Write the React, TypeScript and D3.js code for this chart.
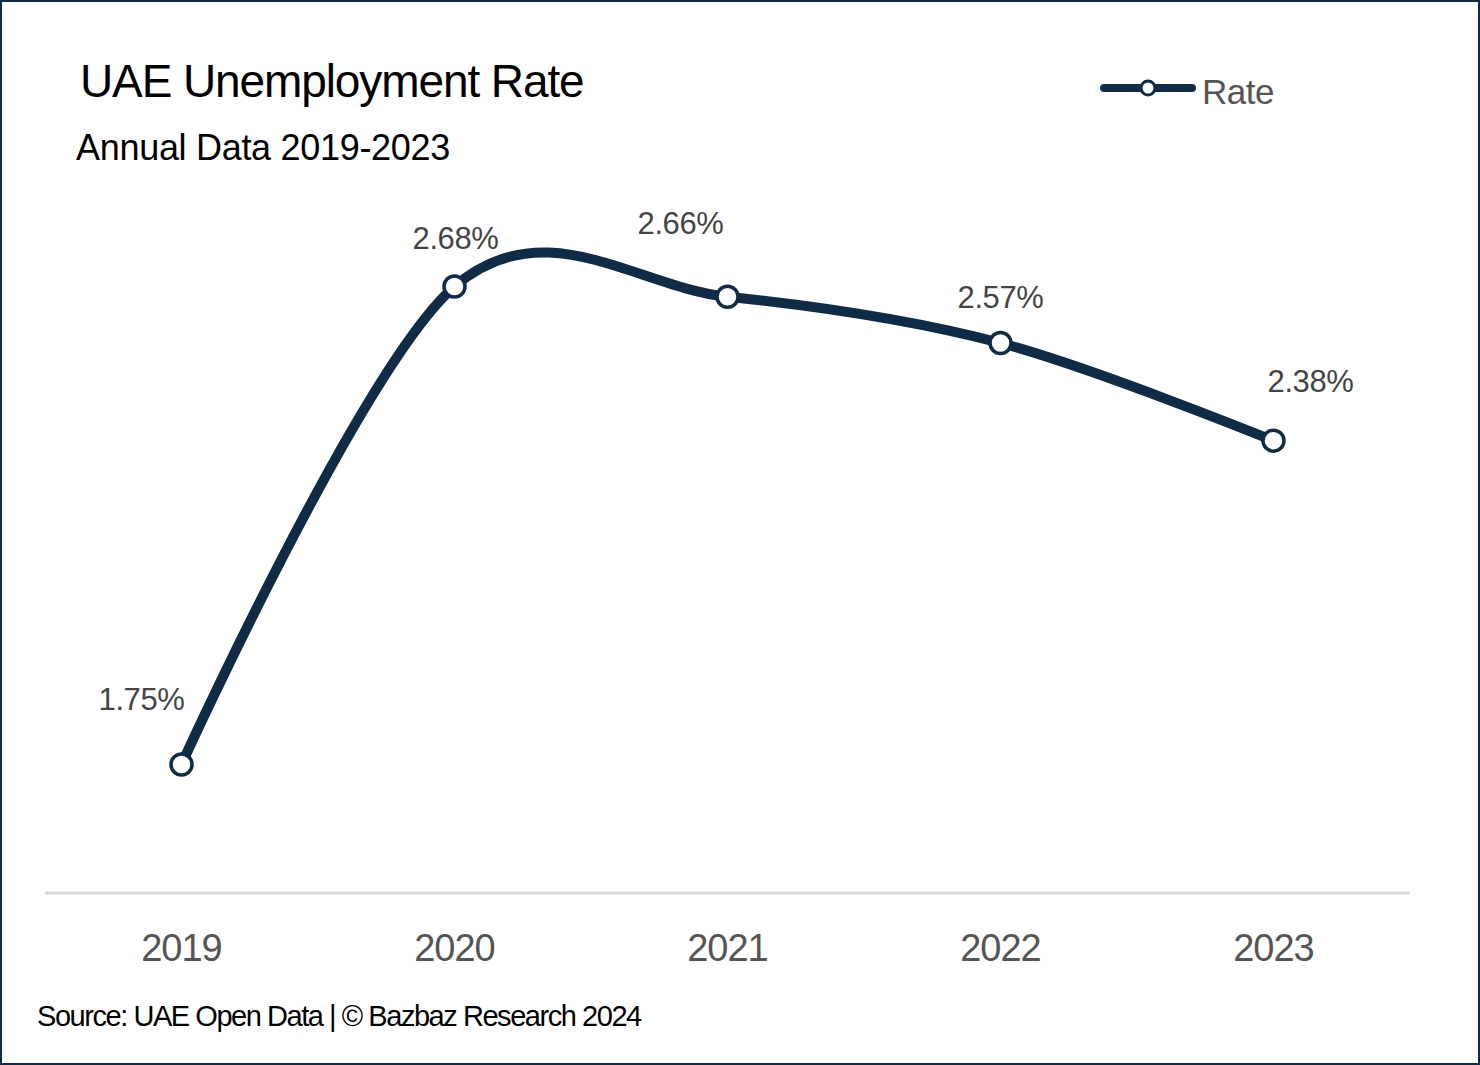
import { useEffect, useMemo } from 'react';
import * as d3 from 'd3';

const years = ['2019', '2020', '2021', '2022', '2023'];
const rates = [1.75, 2.68, 2.66, 2.57, 2.38];
// hand-placed label nudges (dx, dy) relative to each point
const labelOffsets: [number, number][] = [
  [-40, -66],
  [1, -48],
  [-47, -74],
  [0, -46],
  [37, -60],
];

const WIDTH = 1480;
const HEIGHT = 1065;
const NAVY = '#0f2b46';
const FONT = "'Liberation Sans', Arial, sans-serif";

export default function App() {
  useEffect(() => {
    document.body.style.margin = '0';
  }, []);

  const x = useMemo(() => d3.scaleBand<string>().domain(years).range([45, 1410]).padding(0), []);
  const y = useMemo(() => d3.scaleLinear().domain([1.5, 3.0]).range([893, 122]), []);

  const cx = (i: number) => (x(years[i]) ?? 0) + x.bandwidth() / 2;

  const line = d3
    .line<number>()
    .x((_, i) => cx(i))
    .y((d) => y(d))
    .curve(d3.curveCardinal.tension(0));

  return (
    <svg width={WIDTH} height={HEIGHT} style={{ display: 'block' }} fontFamily={FONT}>
      <rect x={1} y={1} width={WIDTH - 2} height={HEIGHT - 2} fill="#fff" stroke={NAVY} strokeWidth={2} />

      <text x={80} y={97} fontSize={46} fill="#000" letterSpacing={-1.1}>
        UAE Unemployment Rate
      </text>
      <text x={76} y={160} fontSize={36} fill="#000" letterSpacing={-0.3}>
        Annual Data 2019-2023
      </text>

      {/* legend */}
      <g>
        <line x1={1104} x2={1192} y1={88} y2={88} stroke={NAVY} strokeWidth={8} strokeLinecap="round" />
        <circle cx={1148} cy={88} r={7} fill="#fff" stroke={NAVY} strokeWidth={3} />
        <text x={1202} y={104} fontSize={35} fill="#555" letterSpacing={-0.5}>
          Rate
        </text>
      </g>

      {/* axis baseline */}
      <line x1={45} x2={1410} y1={893} y2={893} stroke="#d9d9d9" strokeWidth={3} />

      {years.map((yr, i) => (
        <text key={yr} x={cx(i)} y={961} textAnchor="middle" fontSize={38} fill="#555" letterSpacing={-1}>
          {yr}
        </text>
      ))}

      <path d={line(rates) ?? ''} fill="none" stroke={NAVY} strokeWidth={10} strokeLinecap="round" />

      {rates.map((r, i) => (
        <circle key={i} cx={cx(i)} cy={y(r)} r={10.5} fill="#fff" stroke={NAVY} strokeWidth={3.5} />
      ))}

      {rates.map((r, i) => (
        <text
          key={`l${i}`}
          x={cx(i) + labelOffsets[i][0]}
          y={y(r) + labelOffsets[i][1] + 11}
          textAnchor="middle"
          fontSize={31}
          fill="#444"
          letterSpacing={-0.4}
        >
          {`${r.toFixed(2)}%`}
        </text>
      ))}

      <text x={37} y={1026} fontSize={29} fill="#000" letterSpacing={-1.45}>
        Source: UAE Open Data | © Bazbaz Research 2024
      </text>
    </svg>
  );
}
